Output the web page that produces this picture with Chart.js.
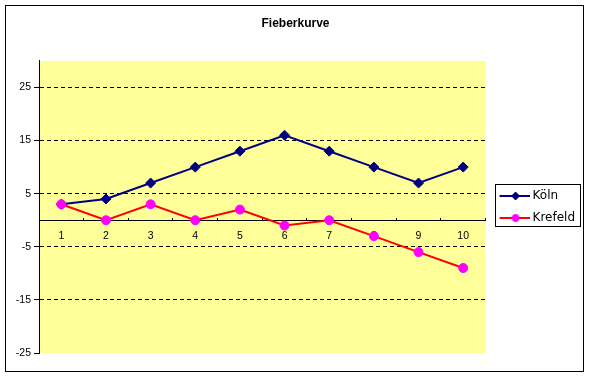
<!DOCTYPE html>
<html><head><meta charset="utf-8">
<script src="https://cdn.jsdelivr.net/npm/chart.js@4"></script>
<style>html,body{margin:0;padding:0;background:#fff}canvas{display:block}</style>
</head><body>
<canvas id="c" width="589" height="378"></canvas>
<script>
const categories = ['1','2','3','4','5','6','7','8','9','10'];
const koeln = [3, 4, 7, 10, 13, 16, 13, 10, 7, 10];
const krefeld = [3, 0, 3, 0, 2, -1, 0, -3, -6, -9];
const yTicks = [-25, -15, -5, 5, 15, 25];
const seriesNames = ['Köln', 'Krefeld'];
const titleText = 'Fieberkurve';

const NAVY = '#000080', RED = '#FF0000', MAGENTA = '#FF00FF', YELLOW = '#FFFF99';

function legendImage(lineColor, markerColor, style) {
  const c = document.createElement('canvas');
  c.width = 37; c.height = 12;
  const g = c.getContext('2d');
  g.strokeStyle = lineColor; g.lineWidth = 2;
  g.beginPath(); g.moveTo(7, 6); g.lineTo(37, 6); g.stroke();
  g.fillStyle = markerColor; g.strokeStyle = markerColor; g.lineWidth = 1;
  g.beginPath();
  if (style === 'rectRot') {
    g.moveTo(23, 2); g.lineTo(27, 6); g.lineTo(23, 10); g.lineTo(19, 6); g.closePath();
  } else {
    g.arc(23, 6, 3.5, 0, Math.PI * 2);
  }
  g.fill(); g.stroke();
  return c;
}
const legendImgs = [legendImage(NAVY, NAVY, 'rectRot'), legendImage(RED, MAGENTA, 'circle')];

const frame = {
  id: 'frame',
  beforeDraw(chart) {
    const ctx = chart.ctx, a = chart.chartArea;
    ctx.save();
    ctx.fillStyle = '#fff';
    ctx.fillRect(0, 0, chart.width, chart.height);
    ctx.strokeStyle = '#000'; ctx.lineWidth = 1;
    ctx.strokeRect(5.5, 5.5, chart.width - 11, chart.height - 12);
    ctx.fillStyle = YELLOW;
    ctx.fillRect(a.left, a.top, a.right - a.left, a.bottom - a.top);
    ctx.restore();
  },
  afterDraw(chart) {
    const L = chart.legend; if (!L || !L.legendHitBoxes) return;
    const hb = L.legendHitBoxes;
    const left = Math.round(hb[0].left) - 1;
    const top = Math.round(hb[0].top) - 6;
    const right = Math.round(Math.max(...hb.map(h => h.left + h.width))) + 5;
    const last = hb[hb.length - 1];
    const bottom = Math.round(last.top + last.height) + 2;
    const ctx = chart.ctx;
    ctx.save(); ctx.strokeStyle = '#000'; ctx.lineWidth = 1;
    ctx.strokeRect(left + 0.5, top + 0.5, right - left, bottom - top);
    ctx.restore();
  }
};

new Chart(document.getElementById('c'), {
  type: 'line',
  data: {
    labels: categories,
    datasets: [
      { label: seriesNames[0], data: koeln, borderColor: NAVY, backgroundColor: NAVY, borderWidth: 2,
        pointStyle: 'rectRot', pointRadius: 5, pointBorderWidth: 1, pointBackgroundColor: NAVY, pointBorderColor: NAVY,
        tension: 0, order: 1 },
      { label: seriesNames[1], data: krefeld, borderColor: RED, backgroundColor: RED, borderWidth: 2,
        pointStyle: 'circle', pointRadius: 4.5, pointBorderWidth: 1, pointBackgroundColor: MAGENTA, pointBorderColor: MAGENTA,
        tension: 0, order: 0 }
    ]
  },
  options: {
    responsive: false, animation: false, events: [],
    layout: { padding: { left: 6, right: 4, top: 6, bottom: 25 } },
    plugins: {
      tooltip: { enabled: false },
      title: { display: true, text: titleText, color: '#000',
        font: { family: 'Liberation Sans', size: 12, weight: 'bold' },
        padding: { top: 10.5, bottom: 30 } },
      legend: {
        position: 'right', fullSize: false,
        labels: {
          font: { family: 'DejaVu Sans', size: 12 }, color: '#000', padding: 10,
          usePointStyle: true, pointStyleWidth: 31,
          generateLabels(chart) {
            return chart.data.datasets.map((ds, i) => ({
              text: ds.label, fillStyle: 'transparent', strokeStyle: 'transparent', lineWidth: 0,
              hidden: false, datasetIndex: i, pointStyle: legendImgs[i], fontColor: '#000'
            }));
          }
        }
      }
    },
    scales: {
      x: {
        type: 'category', offset: true, position: { y: 0 },
        border: { display: true, color: '#000', width: 1 },
        grid: { drawOnChartArea: false, drawTicks: true, tickLength: -3, color: '#000', offset: true },
        ticks: { padding: 13, color: '#000', font: { family: 'Liberation Sans', size: 10.5 }, maxRotation: 0, autoSkip: false }
      },
      y: {
        position: 'left', min: -25, max: 30,
        afterBuildTicks(scale) { scale.ticks = yTicks.map(v => ({ value: v })); },
        afterFit(scale) { scale.width = 33; },
        border: { display: true, color: '#000', width: 1, dash: [4, 3] },
        grid: { color: (c) => (c.tick && c.tick.value === -25) ? 'rgba(0,0,0,0)' : '#000',
                tickColor: '#000', tickLength: 5, drawTicks: true, lineWidth: 1 },
        ticks: { padding: 3, color: '#000', font: { family: 'Liberation Sans', size: 10.5 } }
      }
    }
  },
  plugins: [frame]
});
</script>
</body></html>
